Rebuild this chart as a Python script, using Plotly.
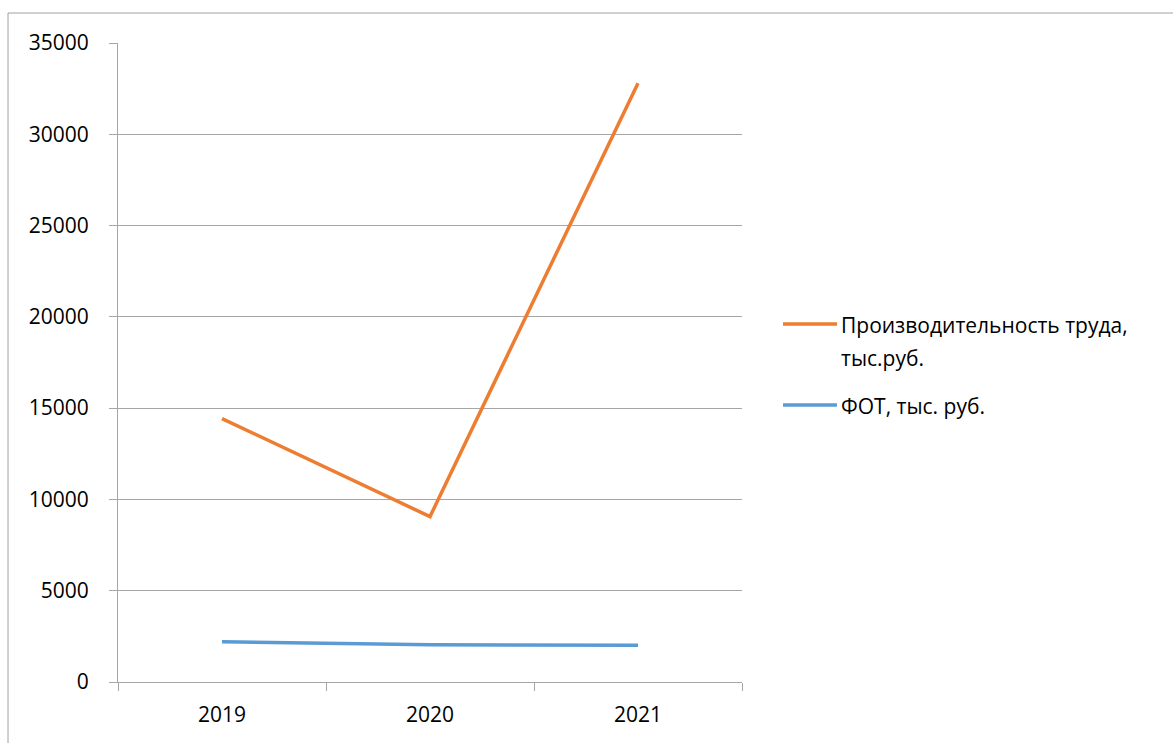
import plotly.graph_objects as go

years = ["2019", "2020", "2021"]
productivity = [14430, 9060, 32800]
fot = [2200, 2040, 2010]
series_names = ["Производительность труда,", "тыс.руб.", "ФОТ, тыс. руб."]

ORANGE = "#ED7D31"
BLUE = "#5B9BD5"
GRID = "#A6A6A6"
FONT = "Open Sans"
FS = 21

W, H = 1173, 743
L, R, T, B = 118, 431, 43, 61
pw = W - L - R
ph = H - T - B

def px_x(x):
    return (x - L) / pw

def px_y(y):
    return (H - B - y) / ph

fig = go.Figure()
fig.add_trace(go.Scatter(x=years, y=productivity, mode="lines",
                         line=dict(color=ORANGE, width=3.5), showlegend=False))
fig.add_trace(go.Scatter(x=years, y=fot, mode="lines",
                         line=dict(color=BLUE, width=3.5), showlegend=False))

shapes = [
    dict(type="rect", xref="paper", yref="paper",
         x0=px_x(8), x1=px_x(1200), y0=px_y(800), y1=px_y(13),
         line=dict(color="#A0A0A0", width=1), layer="below"),
    dict(type="line", xref="paper", yref="paper",
         x0=px_x(783), x1=px_x(837), y0=px_y(324), y1=px_y(324),
         line=dict(color=ORANGE, width=3.5)),
    dict(type="line", xref="paper", yref="paper",
         x0=px_x(783), x1=px_x(837), y0=px_y(405), y1=px_y(405),
         line=dict(color=BLUE, width=3.5)),
]

annotations = [
    dict(text=series_names[0], x=px_x(839), y=px_y(325), xref="paper", yref="paper",
         xanchor="left", yanchor="middle", showarrow=False,
         font=dict(family=FONT, size=FS, color="#000")),
    dict(text=series_names[1], x=px_x(839), y=px_y(358), xref="paper", yref="paper",
         xanchor="left", yanchor="middle", showarrow=False,
         font=dict(family=FONT, size=FS, color="#000")),
    dict(text=series_names[2], x=px_x(839), y=px_y(406), xref="paper", yref="paper",
         xanchor="left", yanchor="middle", showarrow=False,
         font=dict(family=FONT, size=FS, color="#000")),
]

fig.update_layout(
    width=W, height=H,
    margin=dict(l=L, r=R, t=T, b=B, pad=0),
    paper_bgcolor="white", plot_bgcolor="white",
    font=dict(family=FONT, size=FS, color="#000"),
    shapes=shapes, annotations=annotations,
    xaxis=dict(type="category", range=[-0.5, 2.5], showgrid=False, showline=True,
               linecolor=GRID, linewidth=1,
               ticks="outside", tickson="boundaries", ticklen=8, tickcolor=GRID,
               tickfont=dict(family=FONT, size=FS, color="#000"), ticklabelstandoff=14,
               zeroline=False, fixedrange=True),
    yaxis=dict(range=[0, 35000], dtick=5000, showgrid=True, gridcolor=GRID, gridwidth=1,
               showline=True, linecolor=GRID, linewidth=1,
               ticks="outside", ticklen=8, tickcolor=GRID, tickformat="d",
               tickfont=dict(family=FONT, size=FS, color="#000"), ticklabelstandoff=16,
               zeroline=False, fixedrange=True),
)

fig.write_html("out.html")
